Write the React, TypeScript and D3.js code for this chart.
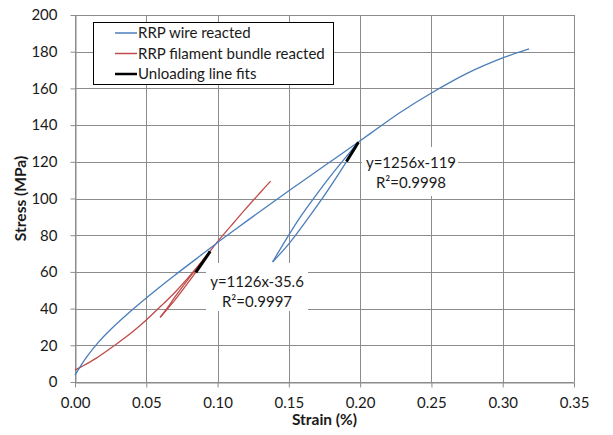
import * as d3 from "d3";
import { useEffect, useRef } from "react";

// RRP wire reacted: loading up to first unload point
const wireLoadStrain = [0, 0.004, 0.008, 0.016, 0.025, 0.04, 0.056, 0.07, 0.085, 0.0996, 0.115, 0.13, 0.15, 0.175, 0.1988];
const wireLoadStress = [3.8, 8.8, 13.4, 21.3, 28.6, 39.2, 49.6, 58.2, 67.1, 75.8, 84.6, 93.1, 104.2, 117.8, 130.8];
// unloading branch
const wireUnloadStrain = [0.1988, 0.19, 0.18, 0.17, 0.16, 0.15, 0.1386];
const wireUnloadStress = [130.8, 119.6, 107.6, 96.2, 85.5, 75.3, 65.4];
// reloading branch
const wireReloadStrain = [0.1386, 0.145, 0.1575, 0.17, 0.18, 0.19, 0.1988];
const wireReloadStress = [65.4, 73.8, 89.3, 102.8, 113.0, 122.5, 130.8];
// continued loading
const wirePostStrain = [0.1988, 0.2125, 0.2275, 0.25, 0.275, 0.3, 0.3185];
const wirePostStress = [130.8, 138.4, 146.6, 157.5, 168.2, 176.6, 181.5];

// RRP filament bundle reacted
const bundleLoadStrain = [0, 0.0047, 0.015, 0.0282, 0.04, 0.05, 0.0607, 0.07, 0.08, 0.0948];
const bundleLoadStress = [6.5, 8.4, 13.0, 20.2, 27.1, 33.8, 41.7, 48.8, 57.4, 71.3];
const bundleUnloadStrain = [0.0948, 0.09, 0.085, 0.08, 0.07, 0.0597];
const bundleUnloadStress = [71.3, 65.9, 60.2, 54.8, 44.6, 35.2];
const bundleReloadStrain = [0.0597, 0.065, 0.07, 0.08, 0.09, 0.0948];
const bundleReloadStress = [35.2, 40.6, 46.2, 56.6, 66.4, 71.3];
const bundlePostStrain = [0.0948, 0.0996, 0.11, 0.12, 0.13, 0.1372];
const bundlePostStress = [71.3, 76.1, 85.6, 94.6, 103.3, 109.5];

// unloading line fits
const fitSlope = [1126, 1256];
const fitIntercept = [-35.6, -119];
const fitFrom = [0.0847, 0.1904];
const fitTo = [0.0948, 0.1988];
const fitLabels = [["y=1126x-35.6", "R²=0.9997"], ["y=1256x-119", "R²=0.9998"]];

const xTicks = [0, 0.05, 0.1, 0.15, 0.2, 0.25, 0.3, 0.35];
const yTicks = [0, 20, 40, 60, 80, 100, 120, 140, 160, 180, 200];
const legendNames = ["RRP wire reacted", "RRP filament bundle reacted", "Unloading line fits"];

const W = 613, H = 435;
const FONT = "Lato, 'Open Sans', sans-serif";
const BLUE = "#4a7ebb", RED = "#be4b48", GRID = "#8c8c8c", INK = "#1a1a1a";

function zip(xs: number[], ys: number[]): [number, number][] {
  return xs.map((x, i) => [x, ys[i]] as [number, number]);
}

export default function App() {
  const ref = useRef<SVGSVGElement>(null);

  useEffect(() => {
    const svg = d3.select(ref.current);
    svg.selectAll("*").remove();

    const x = d3.scaleLinear().domain([0, 0.35]).range([75, 574]);
    const y = d3.scaleLinear().domain([0, 200]).range([382, 15]);

    svg.append("rect").attr("width", W).attr("height", H).attr("fill", "white");

    // gridlines
    svg.append("g").selectAll("line").data(yTicks).enter().append("line")
      .attr("x1", x(0)).attr("x2", x(0.35))
      .attr("y1", d => Math.round(y(d)) + 0.5).attr("y2", d => Math.round(y(d)) + 0.5)
      .attr("stroke", GRID).attr("stroke-width", 1);
    svg.append("g").selectAll("line").data(xTicks).enter().append("line")
      .attr("y1", y(0)).attr("y2", y(200))
      .attr("x1", d => Math.round(x(d)) + 0.5).attr("x2", d => Math.round(x(d)) + 0.5)
      .attr("stroke", GRID).attr("stroke-width", 1);

    // axes
    const xAxis = svg.append("g")
      .attr("transform", "translate(0," + (Math.round(y(0)) + 0.5) + ")")
      .call(d3.axisBottom(x).tickValues(xTicks).tickFormat(d3.format(".2f")).tickSize(5).tickSizeOuter(0).tickPadding(10));
    const yAxis = svg.append("g")
      .attr("transform", "translate(" + (Math.round(x(0)) + 0.5) + ",0)")
      .call(d3.axisLeft(y).tickValues(yTicks).tickSize(5).tickSizeOuter(0).tickPadding(13));
    [xAxis, yAxis].forEach(a => {
      a.select(".domain").attr("stroke", GRID);
      a.selectAll(".tick line").attr("stroke", GRID);
      a.selectAll(".tick text").style("font", "15px " + FONT).attr("fill", INK);
    });

    // white label boxes over gridlines
    const boxes = [[206, 263, 102, 48], [362, 147, 96, 49]];
    svg.append("g").selectAll("rect").data(boxes).enter().append("rect")
      .attr("x", d => d[0]).attr("y", d => d[1]).attr("width", d => d[2]).attr("height", d => d[3])
      .attr("fill", "white");

    const line = d3.line<[number, number]>()
      .x(d => x(d[0])).y(d => y(d[1]))
      .curve(d3.curveCatmullRom.alpha(0.5));

    const wire = [
      zip(wireLoadStrain, wireLoadStress),
      zip(wireUnloadStrain, wireUnloadStress),
      zip(wireReloadStrain, wireReloadStress),
      zip(wirePostStrain, wirePostStress),
    ];
    const bundle = [
      zip(bundleLoadStrain, bundleLoadStress),
      zip(bundleUnloadStrain, bundleUnloadStress),
      zip(bundleReloadStrain, bundleReloadStress),
      zip(bundlePostStrain, bundlePostStress),
    ];
    svg.append("g").selectAll("path").data(bundle).enter().append("path")
      .attr("d", d => line(d)).attr("fill", "none").attr("stroke", RED).attr("stroke-width", 1.3);
    svg.append("g").selectAll("path").data(wire).enter().append("path")
      .attr("d", d => line(d)).attr("fill", "none").attr("stroke", BLUE).attr("stroke-width", 1.3);

    // fit lines
    svg.append("g").selectAll("line").data(fitSlope).enter().append("line")
      .attr("x1", (d, i) => x(fitFrom[i])).attr("x2", (d, i) => x(fitTo[i]))
      .attr("y1", (d, i) => y(d * fitFrom[i] + fitIntercept[i]))
      .attr("y2", (d, i) => y(d * fitTo[i] + fitIntercept[i]))
      .attr("stroke", "black").attr("stroke-width", 3);

    // fit labels
    const labelPos = [[257, 282], [411, 163]];
    fitLabels.forEach((lines, i) => {
      lines.forEach((t, j) => {
        svg.append("text").attr("x", labelPos[i][0]).attr("y", labelPos[i][1] + j * 20)
          .attr("dy", "0.35em").attr("text-anchor", "middle")
          .style("font", "15px " + FONT).attr("fill", INK).text(t);
      });
    });

    // axis titles
    svg.append("text").attr("x", x(0.175)).attr("y", 425).attr("text-anchor", "middle")
      .style("font", "bold 15.5px " + FONT).attr("fill", INK).text("Strain (%)");
    svg.append("text").attr("transform", "translate(21," + y(100) + ") rotate(-90)")
      .attr("dy", "0.35em").attr("text-anchor", "middle")
      .style("font", "bold 15.5px " + FONT).attr("fill", INK).text("Stress (MPa)");

    // legend
    const lg = svg.append("g");
    lg.append("rect").attr("x", 93.5).attr("y", 22.5).attr("width", 240).attr("height", 62)
      .attr("fill", "white").attr("stroke", "black").attr("stroke-width", 1);
    const colors = [BLUE, RED, "black"];
    const widths = [1.5, 1.5, 2.5];
    legendNames.forEach((n, i) => {
      const cy = 33 + i * 20.5;
      lg.append("line").attr("x1", 115).attr("x2", 137).attr("y1", cy).attr("y2", cy)
        .attr("stroke", colors[i]).attr("stroke-width", widths[i]);
      lg.append("text").attr("x", 138).attr("y", cy).attr("dy", "0.35em")
        .style("font", "15px " + FONT).attr("fill", INK).text(n);
    });
  }, []);

  return (
    <div style={{ position: "absolute", left: 0, top: 0 }}>
      <svg ref={ref} width={W} height={H}></svg>
    </div>
  );
}
